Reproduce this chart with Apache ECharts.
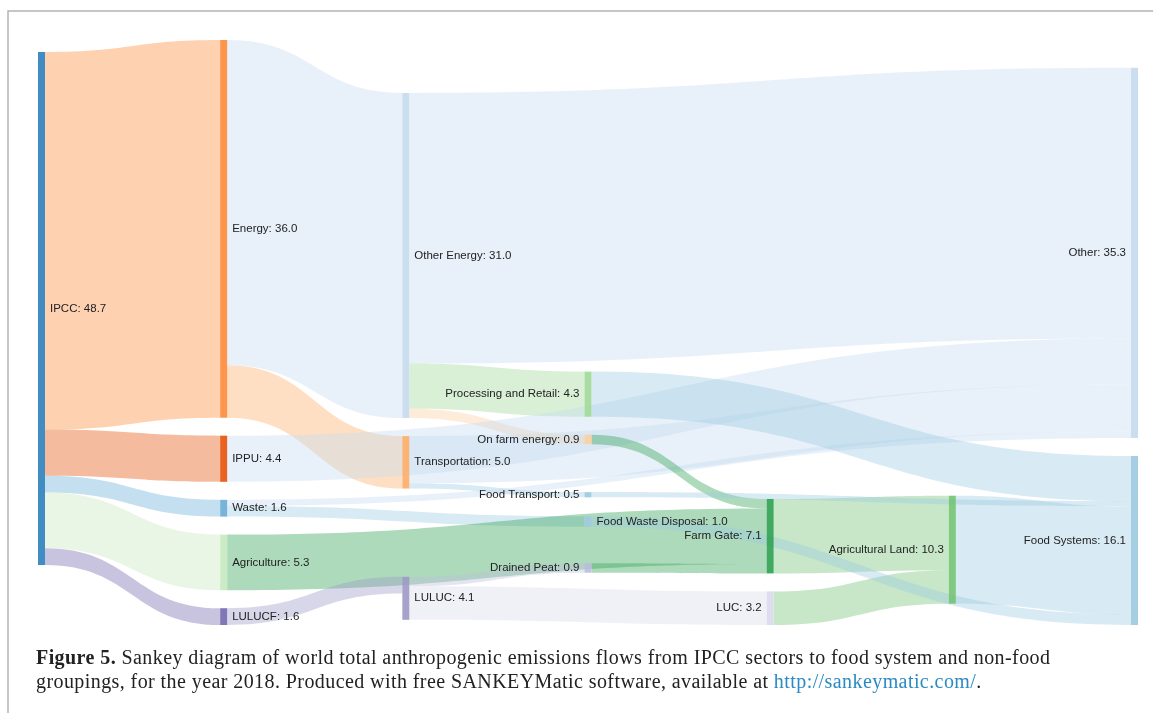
<!DOCTYPE html>
<html>
<head>
<meta charset="utf-8">
<script src="https://cdn.jsdelivr.net/npm/echarts@6/dist/echarts.min.js"></script>
<style>
  html, body { margin: 0; padding: 0; background: #fff; }
  #chart { width: 1153px; height: 713px; position: absolute; left: 0; top: 0; }
  #caption { position: absolute; left: 36px; top: 645px; width: 1100px;
    font-family: 'Liberation Serif', 'DejaVu Serif', serif; font-size: 20px; line-height: 24px;
    letter-spacing: 0.42px; color: #222; white-space: nowrap; }
  #caption b { font-weight: bold; }
  #caption .lnk { color: #2a8ac4; }
</style>
</head>
<body>
<div id="chart"></div>
<div id="caption"></div>
<script>
// ---- Data ----
const nodeNames = ['IPCC', 'Energy', 'Waste', 'IPPU', 'Agriculture', 'LULUCF',
  'Transportation', 'Other Energy', 'LULUC',
  'Food Waste Disposal', 'Food Transport', 'Processing and Retail', 'On farm energy', 'Drained Peat',
  'Farm Gate', 'LUC', 'Agricultural Land', 'Other', 'Food Systems'];
const nodeValues = [48.7, 36.0, 1.6, 4.4, 5.3, 1.6,
  5.0, 31.0, 4.1,
  1.0, 0.5, 4.3, 0.9, 0.9,
  7.1, 3.2, 10.3, 35.3, 16.1];
const nodeDepths = [0, 1, 1, 1, 1, 1, 2, 2, 2, 3, 3, 3, 3, 3, 4, 4, 5, 6, 6];
const nodeColors = ['#3182bd', '#fd8d3c', '#6baed6', '#e6550d', '#c7e9c0', '#756bb1',
  '#fdae6b', '#c6dbef', '#9e9ac8',
  '#9ecae1', '#9ecae1', '#a1d99b', '#fdd0a2', '#bcbddc',
  '#31a354', '#dadaeb', '#74c476', '#c6dbef', '#9ecae1'];
const labelSides = ['right', 'right', 'right', 'right', 'right', 'right',
  'right', 'right', 'right',
  'right', 'left', 'left', 'left', 'left',
  'left', 'left', 'left', 'left', 'left'];

const flowSources = ['IPCC', 'IPCC', 'IPCC', 'IPCC', 'IPCC',
  'Energy', 'Energy',
  'Transportation', 'Transportation',
  'Other Energy', 'Other Energy', 'Other Energy',
  'Waste', 'Waste', 'IPPU', 'Agriculture', 'LULUCF',
  'LULUC', 'LULUC',
  'On farm energy', 'Drained Peat',
  'Farm Gate', 'LUC',
  'Agricultural Land', 'Processing and Retail', 'Food Transport', 'Food Waste Disposal'];
const flowTargets = ['Energy', 'Waste', 'IPPU', 'Agriculture', 'LULUCF',
  'Transportation', 'Other Energy',
  'Other', 'Food Transport',
  'Other', 'Processing and Retail', 'On farm energy',
  'Other', 'Food Waste Disposal', 'Other', 'Farm Gate', 'LULUC',
  'Drained Peat', 'LUC',
  'Farm Gate', 'Farm Gate',
  'Agricultural Land', 'Agricultural Land',
  'Food Systems', 'Food Systems', 'Food Systems', 'Food Systems'];
const flowValues = [36.0, 1.6, 4.4, 5.3, 1.6,
  5.0, 31.0,
  4.5, 0.5,
  25.8, 4.3, 0.9,
  0.6, 1.0, 4.4, 5.3, 1.6,
  0.9, 3.2,
  0.9, 0.9,
  7.1, 3.2,
  10.3, 4.3, 0.5, 1.0];

const captionBold = 'Figure 5.';
const captionLine1 = 'Sankey diagram of world total anthropogenic emissions flows from IPCC sectors to food system and non-food';
const captionLine2 = 'groupings, for the year 2018. Produced with free SANKEYMatic software, available at ';
const captionLink = 'http://sankeymatic.com/';

// ---- Caption (real text) ----
const cap = document.getElementById('caption');
const b = document.createElement('b'); b.textContent = captionBold;
cap.appendChild(b);
cap.appendChild(document.createTextNode(' ' + captionLine1));
cap.appendChild(document.createElement('br'));
cap.appendChild(document.createTextNode(captionLine2));
const a = document.createElement('span'); a.className = 'lnk'; a.textContent = captionLink;
cap.appendChild(a);
cap.appendChild(document.createTextNode('.'));

// ---- Chart ----
const nodes = nodeNames.map((n, i) => ({
  name: n,
  value: nodeValues[i],
  depth: nodeDepths[i],
  itemStyle: { color: nodeColors[i] },
  label: { position: labelSides[i] }
}));
const links = flowSources.map((s, i) => ({ source: s, target: flowTargets[i], value: flowValues[i] }));

const chart = echarts.init(document.getElementById('chart'), null, { renderer: 'canvas' });
chart.setOption({
  animation: false,
  graphic: [{
    type: 'polyline',
    shape: { points: [[8, 713], [8, 11], [1153, 11]] },
    style: { stroke: '#b4b4b4', lineWidth: 1.5, fill: null },
    silent: true
  }],
  series: [{
    type: 'sankey',
    left: 38,
    right: 15,
    top: 40,
    bottom: 88,
    nodeWidth: 7,
    nodeGap: 18,
    layoutIterations: 300,
    draggable: false,
    emphasis: { disabled: true },
    data: nodes,
    links: links,
    itemStyle: { borderWidth: 0, opacity: 0.92 },
    lineStyle: { color: 'target', opacity: 0.4, curveness: 0.5 },
    label: {
      fontFamily: 'Liberation Sans',
      fontSize: 11.5,
      color: '#222',
      distance: 5,
      formatter: p => p.name + ': ' + nodeValues[nodeNames.indexOf(p.name)].toFixed(1)
    }
  }]
});
</script>
</body>
</html>
